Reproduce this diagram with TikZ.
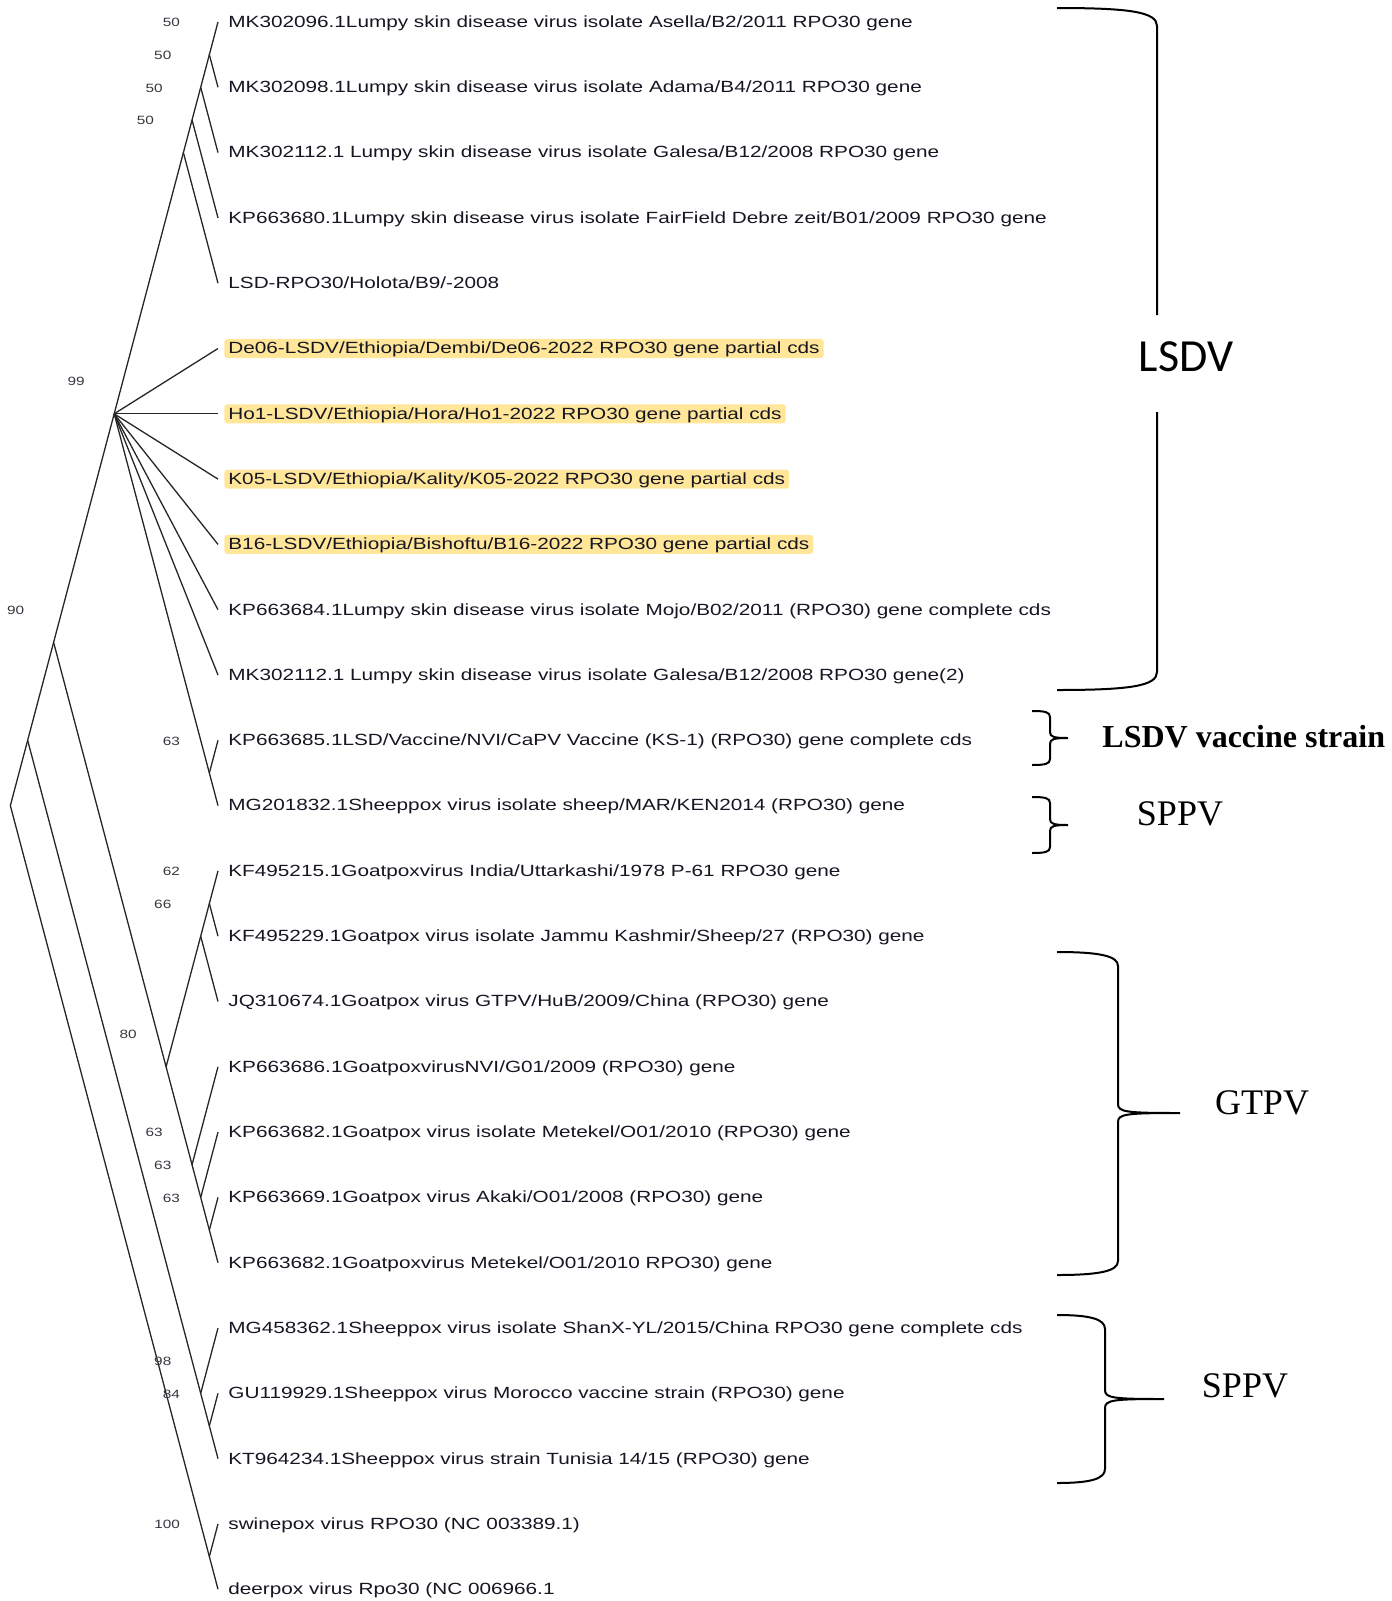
\documentclass[tikz,border=0pt]{standalone}
\usepackage{fontspec}
\usetikzlibrary{positioning}
\newfontfamily\leaffont[FakeStretch=1.28]{Liberation Sans}
\newfontfamily\cladefont{Liberation Serif}
\newfontfamily\calibrifont{Carlito}
\definecolor{hlyellow}{RGB}{255,230,153}
\definecolor{leafink}{RGB}{22,22,34}
\definecolor{bootink}{RGB}{55,55,65}

\begin{document}
\begin{tikzpicture}[x=0.5pt, y=-0.5pt,
  branch/.style={draw=black!85, line width=0.65pt},
  leaf/.style={font=\leaffont\fontsize{8.1}{9}\selectfont, text=leafink, inner xsep=2pt, inner ysep=1pt, text height=1.5ex, text depth=.25ex},
  hl/.style={leaf, fill=hlyellow, rounded corners=1.5pt},
  boot/.style={anchor=east, font=\leaffont\fontsize{6}{7}\selectfont, text=bootink, inner sep=0pt},
  brace/.style={draw=black, line width=1pt},
  clade/.style={font=\cladefont\fontsize{18}{20}\selectfont, inner sep=0pt}]
\useasboundingbox (0,0) rectangle (1392,1601);

% tips and names
\coordinate (t0) at (218,22);
\node[leaf, right=3pt of t0] (l0) {MK302096.1Lumpy skin disease virus isolate Asella/B2/2011 RPO30 gene};
\coordinate (t1) at (218,87.3);
\node[leaf, right=3pt of t1] (l1) {MK302098.1Lumpy skin disease virus isolate Adama/B4/2011 RPO30 gene};
\coordinate (t2) at (218,152.6);
\node[leaf, right=3pt of t2] (l2) {MK302112.1 Lumpy skin disease virus isolate Galesa/B12/2008 RPO30 gene};
\coordinate (t3) at (218,217.9);
\node[leaf, right=3pt of t3] (l3) {KP663680.1Lumpy skin disease virus isolate FairField Debre zeit/B01/2009 RPO30 gene};
\coordinate (t4) at (218,283.2);
\node[leaf, right=3pt of t4] (l4) {LSD-RPO30/Holota/B9/-2008};
\coordinate (t5) at (218,348.5);
\node[hl, right=3pt of t5] (l5) {De06-LSDV/Ethiopia/Dembi/De06-2022 RPO30 gene partial cds};
\coordinate (t6) at (218,413.8);
\node[hl, right=3pt of t6] (l6) {Ho1-LSDV/Ethiopia/Hora/Ho1-2022 RPO30 gene partial cds};
\coordinate (t7) at (218,479.1);
\node[hl, right=3pt of t7] (l7) {K05-LSDV/Ethiopia/Kality/K05-2022 RPO30 gene partial cds};
\coordinate (t8) at (218,544.4);
\node[hl, right=3pt of t8] (l8) {B16-LSDV/Ethiopia/Bishoftu/B16-2022 RPO30 gene partial cds};
\coordinate (t9) at (218,609.7);
\node[leaf, right=3pt of t9] (l9) {KP663684.1Lumpy skin disease virus isolate Mojo/B02/2011 (RPO30) gene complete cds};
\coordinate (t10) at (218,675);
\node[leaf, right=3pt of t10] (l10) {MK302112.1 Lumpy skin disease virus isolate Galesa/B12/2008 RPO30 gene(2)};
\coordinate (t11) at (218,740.3);
\node[leaf, right=3pt of t11] (l11) {KP663685.1LSD/Vaccine/NVI/CaPV Vaccine (KS-1) (RPO30) gene complete cds};
\coordinate (t12) at (218,805.6);
\node[leaf, right=3pt of t12] (l12) {MG201832.1Sheeppox virus isolate sheep/MAR/KEN2014 (RPO30) gene};
\coordinate (t13) at (218,870.9);
\node[leaf, right=3pt of t13] (l13) {KF495215.1Goatpoxvirus India/Uttarkashi/1978 P-61 RPO30 gene};
\coordinate (t14) at (218,936.2);
\node[leaf, right=3pt of t14] (l14) {KF495229.1Goatpox virus isolate Jammu Kashmir/Sheep/27 (RPO30) gene};
\coordinate (t15) at (218,1001.5);
\node[leaf, right=3pt of t15] (l15) {JQ310674.1Goatpox virus GTPV/HuB/2009/China (RPO30) gene};
\coordinate (t16) at (218,1066.8);
\node[leaf, right=3pt of t16] (l16) {KP663686.1GoatpoxvirusNVI/G01/2009 (RPO30) gene};
\coordinate (t17) at (218,1132.1);
\node[leaf, right=3pt of t17] (l17) {KP663682.1Goatpox virus isolate Metekel/O01/2010 (RPO30) gene};
\coordinate (t18) at (218,1197.4);
\node[leaf, right=3pt of t18] (l18) {KP663669.1Goatpox virus Akaki/O01/2008 (RPO30) gene};
\coordinate (t19) at (218,1262.7);
\node[leaf, right=3pt of t19] (l19) {KP663682.1Goatpoxvirus Metekel/O01/2010 RPO30) gene};
\coordinate (t20) at (218,1328);
\node[leaf, right=3pt of t20] (l20) {MG458362.1Sheeppox virus isolate ShanX-YL/2015/China RPO30 gene complete cds};
\coordinate (t21) at (218,1393.3);
\node[leaf, right=3pt of t21] (l21) {GU119929.1Sheeppox virus Morocco vaccine strain (RPO30) gene};
\coordinate (t22) at (218,1458.6);
\node[leaf, right=3pt of t22] (l22) {KT964234.1Sheeppox virus strain Tunisia 14/15 (RPO30) gene};
\coordinate (t23) at (218,1523.9);
\node[leaf, right=3pt of t23] (l23) {swinepox virus RPO30 (NC 003389.1)};
\coordinate (t24) at (218,1589.2);
\node[leaf, right=3pt of t24] (l24) {deerpox virus Rpo30 (NC 006966.1};

% inner nodes
\coordinate (nA) at (209.35,54.65);
\coordinate (nB) at (200.7,87.3);
\coordinate (nC) at (192.04,119.95);
\coordinate (nD) at (183.39,152.6);
\coordinate (nV) at (209.35,772.95);
\coordinate (nL) at (114.18,413.8);
\coordinate (nG1) at (209.35,903.55);
\coordinate (nG2) at (200.7,936.2);
\coordinate (nG3) at (192.04,1164.75);
\coordinate (nG4) at (200.7,1197.4);
\coordinate (nG5) at (209.35,1230.05);
\coordinate (nG) at (166.09,1066.8);
\coordinate (n90) at (53.61,642.35);
\coordinate (nS2) at (209.35,1425.95);
\coordinate (nS) at (200.7,1393.3);
\coordinate (nX) at (27.66,740.3);
\coordinate (nW) at (209.35,1556.55);
\coordinate (root) at (10.35,805.6);

% branches
\draw[branch] (t0) -- (nA) -- (t1);
\draw[branch] (nA) -- (nB) -- (t2);
\draw[branch] (nB) -- (nC) -- (t3);
\draw[branch] (nC) -- (nD) -- (t4);
\draw[branch] (nD) -- (nL);
\draw[branch] (nL) -- (t5);
\draw[branch] (nL) -- (t6);
\draw[branch] (nL) -- (t7);
\draw[branch] (nL) -- (t8);
\draw[branch] (nL) -- (t9);
\draw[branch] (nL) -- (t10);
\draw[branch] (nL) -- (nV);
\draw[branch] (t11) -- (nV) -- (t12);
\draw[branch] (nL) -- (n90) -- (nG);
\draw[branch] (nG2) -- (nG) -- (nG3);
\draw[branch] (t13) -- (nG1) -- (t14);
\draw[branch] (nG1) -- (nG2) -- (t15);
\draw[branch] (t16) -- (nG3) -- (nG4);
\draw[branch] (t17) -- (nG4) -- (nG5);
\draw[branch] (t18) -- (nG5) -- (t19);
\draw[branch] (n90) -- (nX) -- (nS);
\draw[branch] (t20) -- (nS) -- (nS2);
\draw[branch] (t21) -- (nS2) -- (t22);
\draw[branch] (nX) -- (root) -- (nW);
\draw[branch] (t23) -- (nW) -- (t24);

% bootstrap values
\node[boot] (bA) at ([shift={(-29,-32)}]nA) {50};
\node[boot] (bB) at ([shift={(-29,-32)}]nB) {50};
\node[boot] (bC) at ([shift={(-29,-32)}]nC) {50};
\node[boot] (bD) at ([shift={(-29,-32)}]nD) {50};
\node[boot] (bL) at ([shift={(-29,-32)}]nL) {99};
\node[boot] (bV) at ([shift={(-29,-32)}]nV) {63};
\node[boot] (b90) at ([shift={(-29,-32)}]n90) {90};
\node[boot] (bG1) at ([shift={(-29,-32)}]nG1) {62};
\node[boot] (bG2) at ([shift={(-29,-32)}]nG2) {66};
\node[boot] (bG) at ([shift={(-29,-32)}]nG) {80};
\node[boot] (bG3) at ([shift={(-29,-32)}]nG3) {63};
\node[boot] (bG4) at ([shift={(-29,-32)}]nG4) {63};
\node[boot] (bG5) at ([shift={(-29,-32)}]nG5) {63};
\node[boot] (bS) at ([shift={(-29,-32)}]nS) {98};
\node[boot] (bS2) at ([shift={(-29,-32)}]nS2) {84};
\node[boot] (bW) at ([shift={(-29,-32)}]nW) {100};

% braces
\draw[brace] (1057,8) .. controls (1130,8) and (1157,12) .. (1157,26) -- (1157,315);
\draw[brace] (1157,412) -- (1157,672) .. controls (1157,686) and (1130,690) .. (1057,690);
\draw[brace] (1032,711) .. controls (1045,711) and (1050,712) .. (1050,717) -- (1050,732)
  .. controls (1050,737) and (1054,738) .. (1068,738)
  .. controls (1054,738) and (1050,739) .. (1050,744) -- (1050,759)
  .. controls (1050,764) and (1045,765) .. (1032,765);
\draw[brace] (1032,797) .. controls (1045,797) and (1050,798) .. (1050,803) -- (1050,819)
  .. controls (1050,824) and (1054,825) .. (1068,825)
  .. controls (1054,825) and (1050,826) .. (1050,831) -- (1050,847)
  .. controls (1050,852) and (1045,853) .. (1032,853);
\draw[brace] (1057,952) .. controls (1100,952) and (1118,956) .. (1118,966) -- (1118,1104)
  .. controls (1118,1112) and (1126,1113) .. (1180,1113)
  .. controls (1126,1113) and (1118,1114) .. (1118,1122) -- (1118,1261)
  .. controls (1118,1271) and (1100,1275) .. (1057,1275);
\draw[brace] (1057,1315) .. controls (1090,1315) and (1105,1319) .. (1105,1329) -- (1105,1390)
  .. controls (1105,1398) and (1113,1399) .. (1164,1399)
  .. controls (1113,1399) and (1105,1400) .. (1105,1408) -- (1105,1469)
  .. controls (1105,1479) and (1090,1483) .. (1057,1483);

% clade names
\node[font=\calibrifont\fontsize{23}{26}\selectfont, inner sep=0pt] (lsdv) at (1186,357) {LSDV};
\node[clade, font=\cladefont\bfseries\fontsize{16}{18}\selectfont, anchor=west] (vacc) at (1102,737) {LSDV vaccine strain};
\node[clade] (sppvA) at (1180,814) {SPPV};
\node[clade] (gtpv) at (1262,1103) {GTPV};
\node[clade] (sppvB) at (1245,1386) {SPPV};
\end{tikzpicture}
\end{document}
